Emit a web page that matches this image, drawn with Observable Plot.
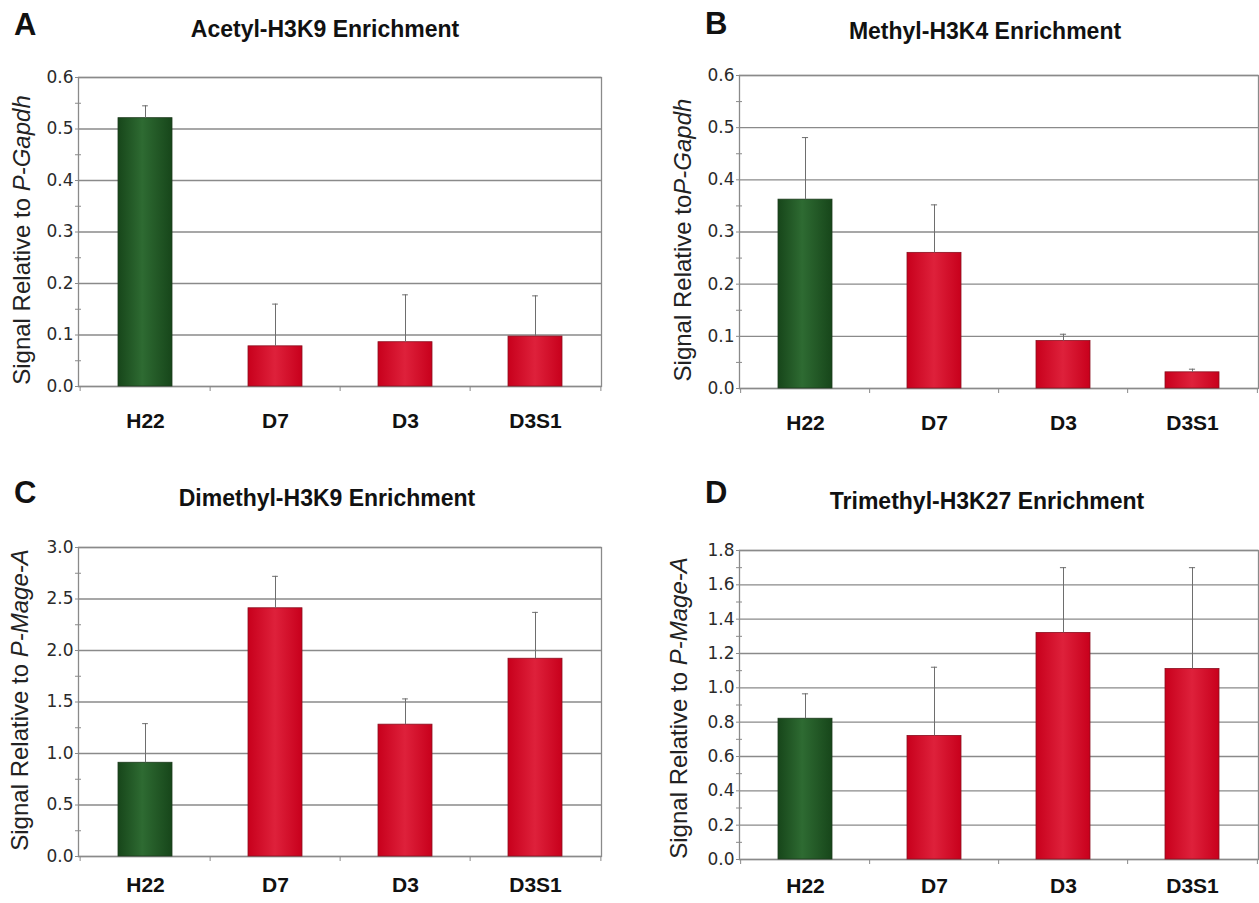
<!DOCTYPE html>
<html>
<head>
<meta charset="utf-8">
<script src="https://cdn.jsdelivr.net/npm/d3@7"></script>
<script src="https://cdn.jsdelivr.net/npm/@observablehq/plot@0.6"></script>
<style>
  body { margin: 0; background: #fff; font-family: "Liberation Sans", Arial, sans-serif; }
  #root { position: relative; width: 1259px; height: 903px; overflow: hidden; background: #fff; }
  .abs { position: absolute; white-space: nowrap; line-height: 1; }
  .letter { font-weight: bold; font-size: 31px; color: #111; }
  .title { font-weight: bold; font-size: 23px; color: #111; transform: translateX(-50%); }
  .ylab { font-size: 24px; color: #222; transform: translate(-50%, -50%) rotate(-90deg); }
  .panel { position: absolute; }
</style>
</head>
<body>
<svg width="0" height="0" style="position:absolute">
  <defs>
    <linearGradient id="gradGreen" x1="0" x2="1" y1="0" y2="0">
      <stop offset="0" stop-color="#17461a"/>
      <stop offset="0.45" stop-color="#2e6b32"/>
      <stop offset="1" stop-color="#17461a"/>
    </linearGradient>
    <linearGradient id="gradRed" x1="0" x2="1" y1="0" y2="0">
      <stop offset="0" stop-color="#c8001c"/>
      <stop offset="0.5" stop-color="#de213b"/>
      <stop offset="1" stop-color="#c8001c"/>
    </linearGradient>
  </defs>
</svg>
<div id="root"></div>
<script>
// ---------------- data ----------------
const categories = ["H22", "D7", "D3", "D3S1"];

// A: Acetyl-H3K9
const acetylMean = [0.521, 0.078, 0.086, 0.097];
const acetylErr  = [0.024, 0.082, 0.092, 0.079];
const acetylTicks = [0, 0.1, 0.2, 0.3, 0.4, 0.5, 0.6];

// B: Methyl-H3K4
const methylMean = [0.362, 0.260, 0.091, 0.031];
const methylErr  = [0.119, 0.092, 0.013, 0.006];
const methylTicks = [0, 0.1, 0.2, 0.3, 0.4, 0.5, 0.6];

// C: Dimethyl-H3K9
const dimethylMean = [0.91, 2.41, 1.28, 1.92];
const dimethylErr  = [0.38, 0.31, 0.25, 0.45];
const dimethylTicks = [0, 0.5, 1.0, 1.5, 2.0, 2.5, 3.0];

// D: Trimethyl-H3K27
const trimethylMean = [0.82, 0.72, 1.32, 1.11];
const trimethylErr  = [0.145, 0.40, 0.38, 0.59];
const trimethylTicks = [0, 0.2, 0.4, 0.6, 0.8, 1.0, 1.2, 1.4, 1.6, 1.8];

const panels = [
  { letter: "A", title: "Acetyl-H3K9 Enrichment", yText: "Signal Relative to ", yItal: "P-Gapdh",
    mean: acetylMean, err: acetylErr, ticks: acetylTicks,
    left: 0, top: 0, w: 630, h: 450, ml: 78, mr: 29, mt: 77, mb: 64, xpad: 27,
    letterX: 14, letterBase: 35, titleX: 325, titleBase: 37, ylabX: 22, ylabY: 240 },
  { letter: "B", title: "Methyl-H3K4 Enrichment", yText: "Signal Relative to", yItal: "P-Gapdh",
    mean: methylMean, err: methylErr, ticks: methylTicks,
    left: 630, top: 0, w: 629, h: 450, ml: 109, mr: 1, mt: 75, mb: 62, xpad: 27,
    letterX: 705, letterBase: 34, titleX: 985, titleBase: 39, ylabX: 683, ylabY: 240 },
  { letter: "C", title: "Dimethyl-H3K9 Enrichment", yText: "Signal Relative to ", yItal: "P-Mage-A",
    mean: dimethylMean, err: dimethylErr, ticks: dimethylTicks,
    left: 0, top: 460, w: 630, h: 443, ml: 78, mr: 29, mt: 87, mb: 47, xpad: 21,
    letterX: 14, letterBase: 503, titleX: 327, titleBase: 506, ylabX: 20, ylabY: 700 },
  { letter: "D", title: "Trimethyl-H3K27 Enrichment", yText: "Signal Relative to ", yItal: "P-Mage-A",
    mean: trimethylMean, err: trimethylErr, ticks: trimethylTicks,
    left: 630, top: 460, w: 629, h: 443, ml: 109, mr: 1, mt: 90, mb: 44, xpad: 19,
    letterX: 705, letterBase: 503, titleX: 987, titleBase: 509, ylabX: 679, ylabY: 708 }
];

// ---------------- drawing ----------------
const root = document.getElementById("root");
const axisColor = "#8a8a8a";
const errColor = "#6e6e6e";
const pad = 0.585;

function addText(cls, text, x, baseline, size) {
  const el = document.createElement("div");
  el.className = "abs " + cls;
  el.textContent = text;
  el.style.left = x + "px";
  el.style.top = (baseline - 0.8465 * size) + "px";
  root.appendChild(el);
}

for (const p of panels) {
  const data = categories.map((c, i) => ({ cat: c, mean: p.mean[i], err: p.err[i] }));
  const minor = p.ticks.slice(1).map((t, i) => (t + p.ticks[i]) / 2);
  const plotW = p.w - p.ml - p.mr;
  const step = plotW / categories.length;
  const bw = step * (1 - pad);
  const capInset = (bw - 6) / 2;
  const yMin = p.ticks[0], yMax = p.ticks[p.ticks.length - 1];

  const chart = Plot.plot({
    width: p.w, height: p.h,
    marginLeft: p.ml, marginRight: p.mr, marginTop: p.mt, marginBottom: p.mb,
    style: { fontFamily: "'Liberation Sans', Arial, sans-serif", overflow: "visible", background: "transparent" },
    x: { domain: categories, paddingInner: pad, paddingOuter: pad / 2 },
    y: { domain: [yMin, yMax] },
    marks: [
      Plot.gridY(p.ticks, { stroke: axisColor, strokeOpacity: 1, strokeWidth: 1.3 }),
      Plot.frame({ stroke: axisColor, strokeWidth: 1.3 }),
      Plot.tickY(minor, { y: d => d, stroke: axisColor, strokeWidth: 1, insetLeft: -3, insetRight: plotW - 3 }),
      Plot.axisY(p.ticks, { tickSize: 3, tickPadding: 2, tickFormat: d3.format(".1f"), fontSize: 17, fontFamily: "'DejaVu Sans', sans-serif", fill: "#2a2a2a", stroke: axisColor, label: null }),
      Plot.ruleX(categories, { x: d => d, dx: -step / 2, y1: () => yMin, y2: () => yMin, insetBottom: -5, stroke: axisColor }),
      Plot.ruleX(categories.slice(-1), { x: d => d, dx: step / 2, y1: () => yMin, y2: () => yMin, insetBottom: -5, stroke: axisColor }),
      Plot.barY(data, { filter: d => d.cat === categories[0], x: "cat", y: "mean", fill: "url(#gradGreen)", stroke: "#1c3a1c", strokeWidth: 0.8 }),
      Plot.barY(data, { filter: d => d.cat !== categories[0], x: "cat", y: "mean", fill: "url(#gradRed)", stroke: "#8a1020", strokeWidth: 0.8 }),
      Plot.ruleX(data, { x: "cat", y1: "mean", y2: d => d.mean + d.err, stroke: errColor, strokeWidth: 1 }),
      Plot.tickY(data, { x: "cat", y: d => d.mean + d.err, stroke: errColor, strokeWidth: 1, insetLeft: capInset, insetRight: capInset }),
      Plot.axisX({ tickSize: 0, tickPadding: p.xpad, fontSize: 21, fontWeight: "bold", fill: "#111", label: null })
    ]
  });

  const holder = document.createElement("div");
  holder.className = "panel";
  holder.style.left = p.left + "px";
  holder.style.top = p.top + "px";
  holder.appendChild(chart);
  root.appendChild(holder);

  addText("letter", p.letter, p.letterX, p.letterBase, 31);
  addText("title", p.title, p.titleX, p.titleBase, 23);

  const yl = document.createElement("div");
  yl.className = "abs ylab";
  yl.style.left = p.ylabX + "px";
  yl.style.top = p.ylabY + "px";
  yl.append(p.yText);
  const it = document.createElement("i");
  it.textContent = p.yItal;
  yl.appendChild(it);
  root.appendChild(yl);
}
</script>
</body>
</html>
